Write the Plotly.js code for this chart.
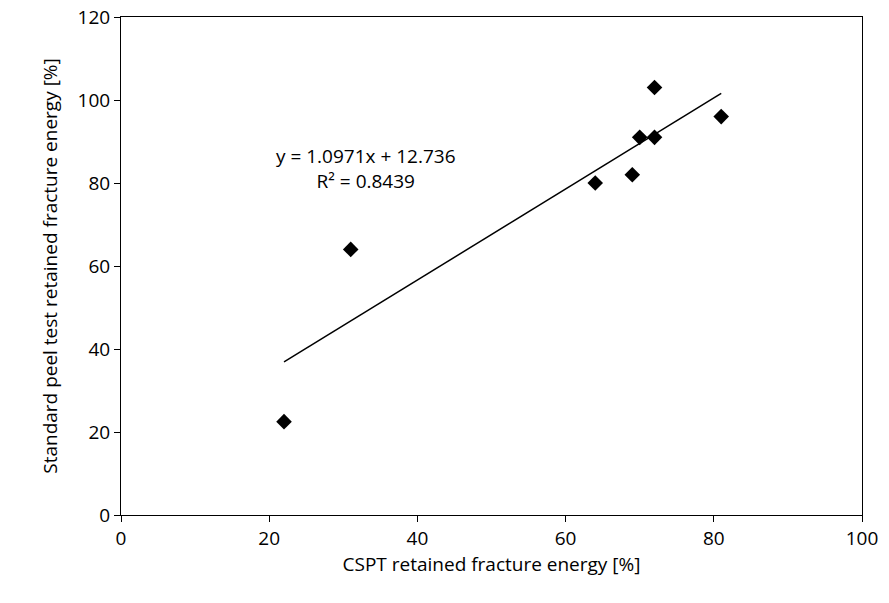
<!DOCTYPE html>
<html>
<head>
<script src="https://cdn.plot.ly/plotly-3.0.1.min.js"></script>
<style>body{margin:0}</style>
</head>
<body>
<div id="chart" style="width:889px;height:603px"></div>
<script>
const cspt = [22, 31, 64, 69, 70, 72, 72, 81];
const peel = [22.5, 64, 80, 82, 91, 91, 103, 96];
const slope = 1.0971, intercept = 12.736;
const fitX = [22, 81];
const fitY = fitX.map(x => slope * x + intercept);

const font = {family: "Open Sans, Liberation Sans, sans-serif", size: 19, color: "#000"};

const data = [
    {x: cspt, y: peel, mode: "markers", type: "scatter",
     marker: {symbol: "diamond", size: 12, color: "#000"}},
    {x: fitX, y: fitY, mode: "lines", type: "scatter",
     line: {color: "#000", width: 1.5}}
];

const layout = {
    width: 889, height: 603,
    margin: {l: 121, r: 27, t: 17, b: 88},
    showlegend: false,
    font: font,
    paper_bgcolor: "#fff", plot_bgcolor: "#fff",
    xaxis: {range: [0, 100], dtick: 20, showgrid: false, zeroline: false,
            showline: true, mirror: true, linecolor: "#000", linewidth: 1,
            ticks: "outside", ticklen: 6, tickcolor: "#000",
            title: {text: "CSPT retained fracture energy [%]", font: font, standoff: 6}},
    yaxis: {range: [0, 120], dtick: 20, showgrid: false, zeroline: false,
            showline: true, mirror: true, linecolor: "#000", linewidth: 1,
            ticks: "outside", ticklen: 6, tickcolor: "#000",
            title: {text: "Standard peel test retained fracture energy [%]", font: font, standoff: 14}},
    annotations: [{
        x: 33, y: 83.5, xref: "x", yref: "y", showarrow: false,
        text: "y = " + slope + "x + " + intercept + "<br>R² = 0.8439",
        font: font, align: "center"
    }]
};

Plotly.newPlot("chart", data, layout, {displayModeBar: false});
</script>
</body>
</html>
